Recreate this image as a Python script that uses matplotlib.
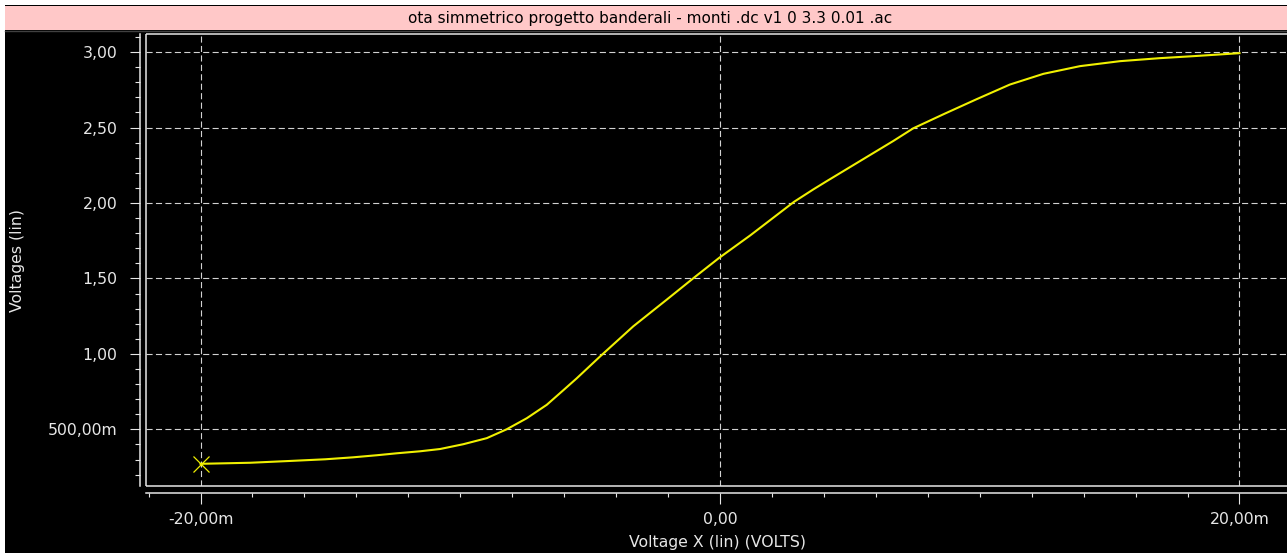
import matplotlib
matplotlib.use("Agg")
import matplotlib.pyplot as plt
from matplotlib.patches import Rectangle
from matplotlib.lines import Line2D
import numpy as np

# ---- data ----
vx = [-0.02000, -0.01809, -0.01655, -0.01520, -0.01413, -0.01320, -0.01243,
      -0.01155, -0.01078, -0.00988, -0.00898, -0.00821, -0.00744, -0.00667,
      -0.00603, -0.00552, -0.00462, -0.00334, -0.00205, -0.00096, -0.00003,
      0.00116, 0.00285, 0.00359, 0.00411, 0.00539, 0.00667, 0.00744,
      0.00860, 0.00988, 0.01116, 0.01245, 0.01386, 0.01540, 0.01694,
      0.01821, 0.02000]
vout = [0.272, 0.279, 0.291, 0.302, 0.315, 0.329, 0.342,
        0.355, 0.370, 0.402, 0.442, 0.501, 0.574, 0.663,
        0.760, 0.838, 0.983, 1.183, 1.360, 1.511, 1.637,
        1.785, 2.008, 2.090, 2.145, 2.278, 2.411, 2.495,
        2.588, 2.688, 2.785, 2.856, 2.907, 2.940, 2.960,
        2.973, 2.993]

x_major = [-0.02, 0.0, 0.02]
x_major_labels = ["-20,00m", "0,00", "20,00m"]
y_major = [0.5, 1.0, 1.5, 2.0, 2.5, 3.0]
y_major_labels = ["500,00m", "1,00", "1,50", "2,00", "2,50", "3,00"]

title = "ota simmetrico progetto banderali - monti .dc v1 0 3.3 0.01 .ac"
xlabel = "Voltage X (lin) (VOLTS)"
ylabel = "Voltages (lin)"

W, H = 1287, 553
fig = plt.figure(figsize=(W / 100, H / 100), dpi=100, facecolor="black")

def fx(px):
    return px / W

def fy(py):
    return 1 - py / H

# window decorations
fig.add_artist(Rectangle((0, fy(5)), 1, 5 / H, transform=fig.transFigure,
                         facecolor="white", edgecolor="none"))
fig.add_artist(Rectangle((0, 0), fx(5), 1, transform=fig.transFigure,
                         facecolor="white", edgecolor="none"))
fig.add_artist(Rectangle((fx(5), fy(30)), 1 - fx(5), 24 / H, transform=fig.transFigure,
                         facecolor="#ffc8c8", edgecolor="none"))
fig.add_artist(Line2D([fx(5), 1], [fy(30.5), fy(30.5)], transform=fig.transFigure,
                      color="#404040", lw=1))
fig.text(fx(650), fy(19), title, ha="center", va="center", color="black",
         fontsize=11, family="DejaVu Sans")

# plot area
left, top, bottom = 146, 34, 486
ax = fig.add_axes([fx(left), fy(bottom), 1 - fx(left), (bottom - top) / H])
ax.set_facecolor("black")
ax.set_xlim(-0.02210, 0.02183)
ax.set_ylim(0.125, 3.12)

fg = "#e6e6e6"
for s in ["right", "top"]:
    ax.spines[s].set_visible(False)
ax.spines["left"].set_position(("outward", 4.3))
ax.spines["bottom"].set_position(("outward", 5.0))
for s in ["left", "bottom"]:
    ax.spines[s].set_color(fg)
    ax.spines[s].set_linewidth(1.1)

# frame lines
for xs, ys in [([0, 0], [0, 1]), ([0, 1], [1, 1]), ([0, 1], [0, 0])]:
    ax.plot(xs, ys, transform=ax.transAxes, color=fg, lw=1.1, clip_on=False,
            solid_capstyle="butt")

ax.set_xticks(x_major)
ax.set_xticklabels(x_major_labels)
ax.set_xticks(np.arange(-0.022, 0.0201, 0.002), minor=True)
ax.set_yticks(y_major)
ax.set_yticklabels(y_major_labels)
ax.set_yticks(np.arange(0.2, 3.11, 0.1), minor=True)

ax.tick_params(axis="y", which="major", length=7.2, width=0.8, color=fg,
               labelcolor=fg, labelsize=11.3, pad=9)
ax.tick_params(axis="y", which="minor", length=3.6, width=0.8, color=fg)
ax.tick_params(axis="x", which="major", length=7.9, width=0.8, color=fg,
               labelcolor=fg, labelsize=11.3, pad=6)
ax.tick_params(axis="x", which="minor", length=2.9, width=0.8, color=fg)

# dashed grid
for gx in x_major:
    ax.axvline(gx, color="#d2d2d2", lw=0.8, linestyle=(0, (5.5, 3)), zorder=1)
for gy in y_major:
    ax.axhline(gy, color="#d2d2d2", lw=0.8, linestyle=(0, (5.5, 3)), zorder=1)

# curve
ax.plot(vx, vout, color="#f0f000", lw=1.5, zorder=3)
ax.plot([vx[0]], [vout[0]], marker="x", color="#f0f000", markersize=12,
        markeredgewidth=0.9, zorder=4)

fig.text(fx(718), fy(543), xlabel, ha="center", va="center", color=fg, fontsize=11.3)
fig.text(fx(17.5), fy(260), ylabel, ha="center", va="center", color=fg,
         fontsize=11.3, rotation=90)

fig.savefig("out.png", dpi=100, facecolor=fig.get_facecolor())
